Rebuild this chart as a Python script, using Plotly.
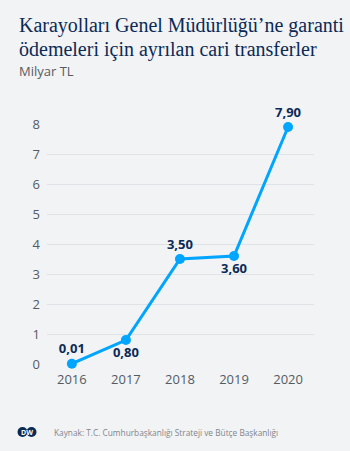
import plotly.graph_objects as go

years = [2016, 2017, 2018, 2019, 2020]
values = [0.01, 0.80, 3.50, 3.60, 7.90]
labels = ["0,01", "0,80", "3,50", "3,60", "7,90"]
label_pos = ["top center", "bottom center", "top center", "bottom center", "top center"]
y_ticks = [0, 1, 2, 3, 4, 5, 6, 7, 8]

W, H = 350, 451
L, R, T, B = 47, 36, 124, 87
PW, PH = W - L - R, H - T - B

def px(x):
    return (x - L) / PW

def py(y):
    return (H - B - y) / PH

fig = go.Figure()
fig.add_trace(go.Scatter(
    x=years, y=values, mode="lines+markers+text",
    text=labels, textposition=label_pos,
    textfont=dict(family="Open Sans", size=13, color="#0b2a55", weight="bold"),
    line=dict(color="#00a5ff", width=3),
    marker=dict(color="#00a5ff", size=10),
    cliponaxis=False, hoverinfo="skip",
))

bg = "#f1f3f5"
fig.update_layout(
    width=W, height=H, paper_bgcolor=bg, plot_bgcolor=bg,
    margin=dict(l=L, r=R, t=T, b=B),
    showlegend=False,
    xaxis=dict(range=[2015.54, 2020.48], tickvals=years, ticktext=[str(y) for y in years],
               showgrid=False, zeroline=False, showline=False,
               tickfont=dict(family="Open Sans", size=13, color="#555b63"),
               ticks="", ticklabelstandoff=6, fixedrange=True),
    yaxis=dict(range=[0, 8], tickvals=y_ticks, ticktext=[str(v) for v in y_ticks],
               showgrid=True, gridcolor="#dfe2e6", gridwidth=1, zeroline=False,
               showline=False, tickfont=dict(family="Open Sans", size=13, color="#555b63"),
               ticks="", ticklabelstandoff=6, fixedrange=True),
)

title_font = dict(family="Liberation Serif", size=20, color="#0b2a55")
fig.add_annotation(text="Karayolları Genel Müdürlüğü’ne garanti", xref="paper", yref="paper",
                   x=px(17), y=py(26), xanchor="left", yanchor="middle", showarrow=False,
                   font=title_font)
fig.add_annotation(text="ödemeleri için ayrılan cari transferler", xref="paper", yref="paper",
                   x=px(17), y=py(49), xanchor="left", yanchor="middle", showarrow=False,
                   font=title_font)
fig.add_annotation(text="Milyar TL", xref="paper", yref="paper",
                   x=px(17), y=py(71), xanchor="left", yanchor="middle", showarrow=False,
                   font=dict(family="Open Sans", size=13, color="#555b63"))
fig.add_annotation(text="Kaynak: T.C. Cumhurbaşkanlığı Strateji ve Bütçe Başkanlığı",
                   xref="paper", yref="paper", x=px(52), y=py(432),
                   xanchor="left", yanchor="middle", showarrow=False,
                   font=dict(family="Open Sans", size=8.3, color="#80868e"))

# DW logo
navy = "#0b2a55"
for cx in (22.5, 31.5):
    fig.add_shape(type="circle", xref="paper", yref="paper",
                  x0=px(cx - 5), x1=px(cx + 5), y0=py(437), y1=py(427),
                  fillcolor=navy, line=dict(width=0))
fig.add_annotation(text="<b>DW</b>", xref="paper", yref="paper", x=px(27), y=py(432),
                   xanchor="center", yanchor="middle", showarrow=False,
                   font=dict(family="Open Sans", size=7, color="white"))

fig.write_html("out.html")
